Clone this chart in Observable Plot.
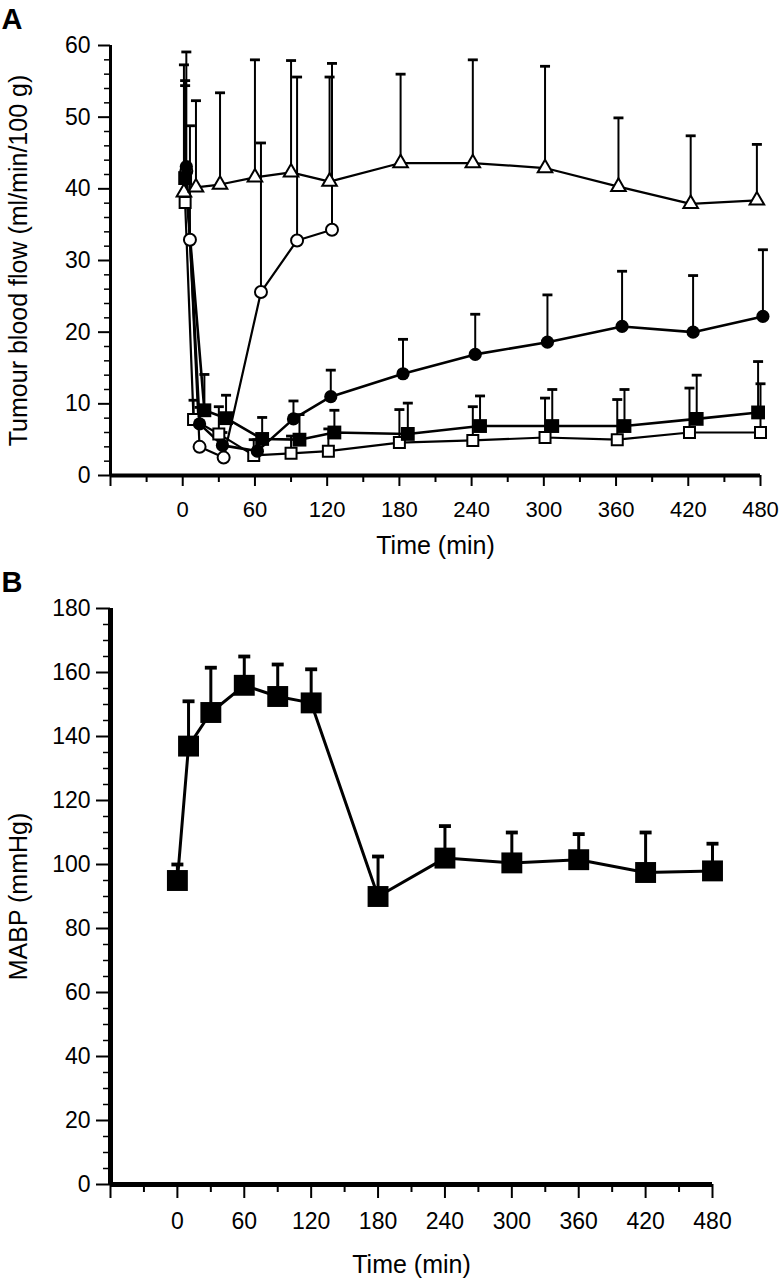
<!DOCTYPE html>
<html><head><meta charset="utf-8">
<script src="https://cdn.jsdelivr.net/npm/d3@7"></script>
<script src="https://cdn.jsdelivr.net/npm/@observablehq/plot@0.6"></script>
<style>
body{margin:0;background:#fff;}
#chart{width:780px;height:1284px;background:#fff;}
#chart svg{display:block;background:#fff;}
</style></head><body><div id="chart"></div>
<script>
// ---------- tick values ----------
const timeLabels = [0, 60, 120, 180, 240, 300, 360, 420, 480];
const timeMajorExtra = [-60];
const timeMinor = [-30, 30, 90, 150, 210, 270, 330, 390, 450];
const flowMajor = [0, 10, 20, 30, 40, 50, 60];
const flowMinor = [2,4,6,8,12,14,16,18,22,24,26,28,32,34,36,38,42,44,46,48,52,54,56,58];
const mabpMajor = [0, 20, 40, 60, 80, 100, 120, 140, 160, 180];
const mabpMinor = [5,10,15,25,30,35,45,50,55,65,70,75,85,90,95,105,110,115,125,130,135,145,150,155,165,170,175];

// ---------- Panel A: tumour blood flow ----------
// open triangles
const triT = [1, 11, 31, 60, 90, 122, 181, 241, 301, 362, 422, 477];
const triV = [39.5, 40.2, 40.6, 41.6, 42.3, 41.0, 43.6, 43.6, 42.9, 40.3, 37.9, 38.4];
const triE = [57.3, 52.3, 53.4, 58.0, 57.9, 55.6, 56.0, 58.0, 57.1, 49.9, 47.4, 46.2];
// open circles
const ocT = [3, 6, 14, 34, 65, 95, 124];
const ocV = [42.5, 32.9, 4.0, 2.5, 25.6, 32.8, 34.3];
const ocE = [null, 48.8, null, null, 46.4, 55.6, 57.5];
// filled circles
const fcT = [3, 14, 33, 62, 92, 123, 183, 243, 303, 365, 424, 482];
const fcV = [43.1, 7.2, 4.2, 3.4, 7.9, 11.0, 14.2, 16.9, 18.6, 20.8, 20.0, 22.2];
const fcE = [59.1, 9.5, 6.0, 5.0, 10.4, 14.7, 19.0, 22.5, 25.2, 28.5, 27.9, 31.5];
// filled squares
const fsT = [2, 18, 36, 66, 97, 126, 187, 247, 307, 367, 427, 478];
const fsV = [41.5, 9.1, 8.0, 5.1, 5.0, 6.0, 5.8, 6.9, 6.9, 6.9, 7.9, 8.8];
const fsE = [55.1, 14.1, 11.2, 8.1, 8.5, 9.1, 10.1, 11.1, 12.0, 12.0, 14.0, 15.9];
// open squares
const osT = [2, 9, 30, 59, 90, 121, 180, 241, 301, 361, 421, 480];
const osV = [38.1, 7.8, 5.8, 2.8, 3.1, 3.4, 4.6, 4.9, 5.3, 5.0, 6.0, 6.0];
const osE = [54.4, 10.5, 9.6, 5.0, 5.5, 6.5, 9.2, 9.6, 10.8, 10.6, 12.2, 12.8];

// ---------- Panel B: MABP ----------
const bT = [0, 10, 30, 60, 90, 120, 180, 240, 300, 360, 420, 480];
const bV = [95, 137, 147.5, 156, 152.5, 150.5, 90, 102, 100.5, 101.5, 97.5, 98];
const bE = [100, 151, 161.5, 165, 162.5, 161, 102.5, 112, 110, 109.5, 110, 106.5];

const rows = (t, v, e) => t.map((x, i) => ({t: x, v: v[i], e: e[i]}));
const tri = rows(triT, triV, triE);
const oc = rows(ocT, ocV, ocE);
const fc = rows(fcT, fcV, fcE);
const fs = rows(fsT, fsV, fsE);
const os = rows(osT, osV, osE);
const mb = rows(bT, bV, bE);

const FONT = "Liberation Sans, Arial, Helvetica, sans-serif";
const cap = {draw(ctx, size) { const w = Math.sqrt(size / Math.PI); ctx.moveTo(-w, 0); ctx.lineTo(w, 0); }};

function errMarks(d, capR, sw) {
  const f = d.filter(r => r.e != null);
  return [
    Plot.ruleX(f, {x: "t", y1: "v", y2: "e", stroke: "black", strokeWidth: sw}),
    Plot.dot(f, {x: "t", y: "e", symbol: cap, r: capR, stroke: "black", strokeWidth: sw + 0.8, fill: "none"})
  ];
}
function lineMark(d, sw) {
  return Plot.line(d, {x: "t", y: "v", stroke: "black", strokeWidth: sw});
}

const plotA = Plot.plot({
  width: 780, height: 562,
  marginLeft: 110, marginRight: 20, marginTop: 45, marginBottom: 87,
  style: {fontFamily: FONT, background: "white", color: "black"},
  x: {domain: [-60, 480]},
  y: {domain: [0, 60]},
  marks: [
    Plot.axisY(flowMajor, {tickSize: 12, tickPadding: 8, strokeWidth: 2, fontSize: 23, label: null}),
    Plot.axisY(flowMinor, {tickSize: 6, strokeWidth: 1.5, tickFormat: () => "", label: null}),
    Plot.axisX(timeLabels, {tickSize: 11, tickPadding: 15, strokeWidth: 2, fontSize: 22, label: null}),
    Plot.axisX(timeMajorExtra, {tickSize: 11, strokeWidth: 2, tickFormat: () => "", label: null}),
    Plot.axisX(timeMinor, {tickSize: 7, strokeWidth: 2, tickFormat: () => "", label: null}),
    Plot.ruleX([-60], {stroke: "black", strokeWidth: 3}),
    Plot.ruleY([0], {stroke: "black", strokeWidth: 4}),
    lineMark(oc, 2.2), lineMark(tri, 2.2), lineMark(os, 2.2), lineMark(fs, 2.6), lineMark(fc, 2.6),
    ...errMarks(oc, 5, 2), ...errMarks(tri, 5, 2), ...errMarks(os, 5, 2), ...errMarks(fs, 5, 2), ...errMarks(fc, 5, 2),
    Plot.dot(oc, {x: "t", y: "v", symbol: "circle", r: 6, fill: "white", stroke: "black", strokeWidth: 2}),
    Plot.dot(tri, {x: "t", y: "v", symbol: "triangle", r: 5.4, fill: "white", stroke: "black", strokeWidth: 2}),
    Plot.dot(os, {x: "t", y: "v", symbol: "square", r: 6.2, fill: "white", stroke: "black", strokeWidth: 2}),
    Plot.dot(fs, {x: "t", y: "v", symbol: "square", r: 7.8, fill: "black", stroke: "none"}),
    Plot.dot(fc, {x: "t", y: "v", symbol: "circle", r: 6.6, fill: "black", stroke: "none"}),
    Plot.text(["Tumour blood flow (ml/min/100 g)"], {frameAnchor: "left", textAnchor: "middle", rotate: -90, dx: -92, fontSize: 25, fill: "black"}),
    Plot.text(["Time (min)"], {frameAnchor: "bottom", textAnchor: "middle", dy: 78, fontSize: 25, fill: "black"}),
    Plot.text(["A"], {frameAnchor: "top-left", textAnchor: "start", dx: -109, dy: -37, fontSize: 29, fontWeight: "bold", fill: "black"})
  ]
});

const plotB = Plot.plot({
  width: 780, height: 722,
  marginLeft: 110, marginRight: 68, marginTop: 46, marginBottom: 100,
  style: {fontFamily: FONT, background: "white", color: "black"},
  x: {domain: [-60, 480]},
  y: {domain: [0, 180]},
  marks: [
    Plot.axisY(mabpMajor, {tickSize: 14, tickPadding: 6, strokeWidth: 2, fontSize: 23, label: null}),
    Plot.axisY(mabpMinor, {tickSize: 7, strokeWidth: 1.5, tickFormat: () => "", label: null}),
    Plot.axisX(timeLabels, {tickSize: 14, tickPadding: 14, strokeWidth: 2, fontSize: 23, label: null}),
    Plot.axisX(timeMajorExtra, {tickSize: 14, strokeWidth: 2, tickFormat: () => "", label: null}),
    Plot.axisX(timeMinor, {tickSize: 8, strokeWidth: 2, tickFormat: () => "", label: null}),
    Plot.ruleX([-60], {stroke: "black", strokeWidth: 5}),
    Plot.ruleY([0], {stroke: "black", strokeWidth: 5}),
    lineMark(mb, 3),
    ...errMarks(mb, 6, 3),
    Plot.dot(mb, {x: "t", y: "v", symbol: "square", r: 11.8, fill: "black", stroke: "none"}),
    Plot.text(["MABP (mmHg)"], {frameAnchor: "left", textAnchor: "middle", rotate: -90, dx: -92, fontSize: 25, fill: "black"}),
    Plot.text(["Time (min)"], {frameAnchor: "bottom", textAnchor: "middle", dy: 88, fontSize: 25, fill: "black"}),
    Plot.text(["B"], {frameAnchor: "top-left", textAnchor: "start", dx: -109, dy: -37, fontSize: 29, fontWeight: "bold", fill: "black"})
  ]
});

const root = document.getElementById("chart");
root.appendChild(plotA);
root.appendChild(plotB);
</script></body></html>
